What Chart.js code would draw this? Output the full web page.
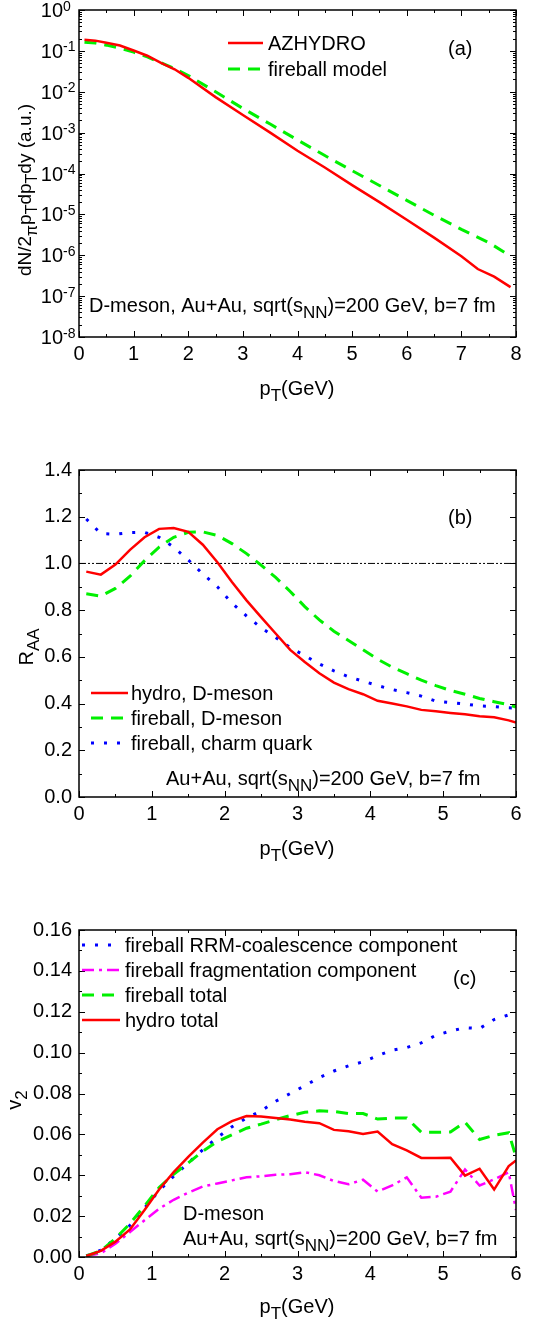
<!DOCTYPE html>
<html>
<head>
<meta charset="utf-8">
<script src="https://cdn.jsdelivr.net/npm/chart.js@4.4.1/dist/chart.umd.min.js"></script>
<style>
body { margin: 0; background: #fff; }
canvas { position: absolute; left: 0; }
</style>
</head>
<body>
<canvas id="spectra-chart" width="533" height="420" style="top:0"></canvas>
<canvas id="raa-chart" width="533" height="450" style="top:420px"></canvas>
<canvas id="v2-chart" width="533" height="455" style="top:870px"></canvas>
<script>
// (a) pT spectra
const ptHydroSpectrum = [0.1, 0.3, 0.5, 0.75, 1, 1.25, 1.5, 1.75, 2, 2.5, 3, 3.5, 4, 4.5, 5, 5.5, 6, 6.5, 7, 7.3, 7.6, 7.9];
const azhydroSpectrum = [0.186, 0.178, 0.158, 0.135, 0.102, 0.076, 0.051, 0.0355, 0.0219, 7.4e-3, 2.7e-3, 1.0e-3, 3.6e-4, 1.4e-4, 5.2e-5, 2.0e-5, 7.4e-6, 2.7e-6, 9.5e-7, 4.6e-7, 3.0e-7, 1.66e-7];
const ptFireballSpectrum = [0.1, 0.3, 0.5, 0.75, 1, 1.25, 1.5, 1.75, 2, 2.5, 3, 3.5, 4, 4.5, 5, 5.5, 6, 6.5, 7, 7.5, 7.9];
const fireballSpectrum = [0.162, 0.155, 0.138, 0.117, 0.093, 0.071, 0.051, 0.037, 0.025, 0.010, 3.9e-3, 1.62e-3, 6.6e-4, 2.75e-4, 1.17e-4, 5.1e-5, 2.2e-5, 9.5e-6, 4.3e-6, 2.05e-6, 9.5e-7];
const logDecades = [0, -1, -2, -3, -4, -5, -6, -7, -8];

// (b) and (c) share the pT grid
const ptGrid = [0.1, 0.3, 0.5, 0.7, 0.9, 1.1, 1.3, 1.5, 1.7, 1.9, 2.1, 2.3, 2.5, 2.7, 2.9, 3.1, 3.3, 3.5, 3.7, 3.9, 4.1, 4.3, 4.5, 4.7, 4.9, 5.1, 5.3, 5.5, 5.7, 5.9, 6.0];

// (b) R_AA
const raaHydroD = [0.965, 0.952, 0.995, 1.058, 1.112, 1.148, 1.152, 1.135, 1.08, 1.005, 0.92, 0.842, 0.77, 0.70, 0.63, 0.578, 0.53, 0.49, 0.462, 0.44, 0.412, 0.40, 0.388, 0.373, 0.367, 0.36, 0.354, 0.346, 0.341, 0.328, 0.319];
const raaFireballD = [0.87, 0.86, 0.893, 0.945, 1.012, 1.07, 1.112, 1.133, 1.135, 1.12, 1.085, 1.042, 0.993, 0.94, 0.88, 0.815, 0.758, 0.71, 0.67, 0.63, 0.59, 0.556, 0.528, 0.50, 0.477, 0.456, 0.44, 0.422, 0.408, 0.395, 0.385];
const raaFireballCharm = [1.19, 1.128, 1.125, 1.132, 1.133, 1.112, 1.07, 1.015, 0.955, 0.9, 0.83, 0.775, 0.725, 0.683, 0.64, 0.605, 0.57, 0.54, 0.515, 0.496, 0.477, 0.46, 0.447, 0.432, 0.41, 0.404, 0.398, 0.39, 0.387, 0.382, 0.38];
const refLineX = [0, 6];
const refLineY = [1, 1];

// (c) v2
const v2Coalescence = [0.0005, 0.0033, 0.009, 0.0155, 0.024, 0.0325, 0.0395, 0.046, 0.0525, 0.0585, 0.0637, 0.068, 0.0715, 0.0762, 0.080, 0.0838, 0.0878, 0.091, 0.0935, 0.0955, 0.0985, 0.1012, 0.1025, 0.1048, 0.1085, 0.1105, 0.1122, 0.1118, 0.1162, 0.1185, 0.1195];
const v2Fragmentation = [0.0004, 0.0018, 0.0065, 0.0122, 0.018, 0.0236, 0.028, 0.0315, 0.0345, 0.036, 0.0375, 0.039, 0.0395, 0.0402, 0.0405, 0.0415, 0.040, 0.0372, 0.0356, 0.0378, 0.032, 0.035, 0.039, 0.029, 0.0295, 0.032, 0.0428, 0.035, 0.038, 0.0415, 0.023];
const v2FireballTotal = [0.0005, 0.003, 0.009, 0.0163, 0.025, 0.034, 0.0405, 0.046, 0.0518, 0.0565, 0.0598, 0.063, 0.065, 0.0672, 0.0692, 0.0708, 0.0715, 0.0712, 0.0702, 0.0702, 0.0675, 0.068, 0.068, 0.061, 0.061, 0.0612, 0.066, 0.0575, 0.0595, 0.0608, 0.049];
const v2HydroTotal = [0.0005, 0.003, 0.0075, 0.0135, 0.023, 0.033, 0.0415, 0.049, 0.056, 0.0625, 0.0665, 0.069, 0.0688, 0.068, 0.0673, 0.0662, 0.0655, 0.0622, 0.0615, 0.0602, 0.0614, 0.0552, 0.0522, 0.0485, 0.0485, 0.0486, 0.0398, 0.0432, 0.033, 0.0445, 0.0472];

const FONT = '"Liberation Sans", Arial, sans-serif';
const SIZE = 20;
const SUB = 0.85;

const pts = (xs, ys) => xs.map((x, i) => ({ x: x, y: ys[i] }));

const solidRed = { borderColor: '#ff0000', borderWidth: 2.5 };
const dashGreen = { borderColor: '#00f000', borderWidth: 3, borderDash: [12, 8] };
const dotBlue = { borderColor: '#0000ff', borderWidth: 3, borderDash: [3, 10] };
const dashDotMagenta = { borderColor: '#ff00ff', borderWidth: 2.5, borderDash: [12, 5, 3, 5] };

// draws text made of normal / sub / sup pieces, y is the baseline
function richWidth(ctx, parts, size) {
    let w = 0;
    parts.forEach(p => {
        ctx.font = (p[1] ? Math.round(size * SUB) : size) + 'px ' + FONT;
        w += ctx.measureText(p[0]).width;
    });
    return w;
}

function drawRich(ctx, parts, x, y, size, align) {
    let cx = x;
    if (align === 'center') cx -= richWidth(ctx, parts, size) / 2;
    if (align === 'right') cx -= richWidth(ctx, parts, size);
    ctx.textAlign = 'left';
    ctx.textBaseline = 'alphabetic';
    parts.forEach(p => {
        const s = p[1] ? Math.round(size * SUB) : size;
        ctx.font = s + 'px ' + FONT;
        let dy = 0;
        if (p[1] === 'sub') dy = size * 0.3;
        if (p[1] === 'sup') dy = -size * 0.4;
        ctx.fillText(p[0], cx, y + dy);
        cx += ctx.measureText(p[0]).width;
    });
}

const onGrid = (v, step) => Math.abs(v / step - Math.round(v / step)) < 1e-6;

const frame = {
    id: 'frame',
    afterDraw(chart, args, o) {
        const { ctx, chartArea: a, scales: { x, y } } = chart;
        ctx.save();
        ctx.strokeStyle = '#000';
        ctx.fillStyle = '#000';
        ctx.lineWidth = 1;
        ctx.setLineDash([]);

        // inward ticks on all four sides
        ctx.beginPath();
        for (let v = x.min; v <= x.max + 1e-9; v += o.xMinor) {
            const px = Math.round(x.getPixelForValue(v)) + 0.5;
            const len = onGrid(v, o.xMajor) ? 6 : 3;
            ctx.moveTo(px, a.bottom); ctx.lineTo(px, a.bottom - len);
            ctx.moveTo(px, a.top); ctx.lineTo(px, a.top + len);
        }
        const yTicks = [];
        if (o.logY) {
            logDecades.forEach(d => {
                for (let m = 1; m <= 9; m++) {
                    const v = m * Math.pow(10, d);
                    if (v >= y.min * 0.999 && v <= y.max * 1.001) yTicks.push([v, m === 1]);
                }
            });
        } else {
            for (let v = y.min; v <= y.max + 1e-9; v += o.yMinor) yTicks.push([v, onGrid(v, o.yMajor)]);
        }
        yTicks.forEach(t => {
            const py = Math.round(y.getPixelForValue(t[0])) + 0.5;
            const len = t[1] ? 6 : 3;
            ctx.moveTo(a.left, py); ctx.lineTo(a.left + len, py);
            ctx.moveTo(a.right, py); ctx.lineTo(a.right - len, py);
        });
        ctx.stroke();

        ctx.lineWidth = 1.5;
        ctx.strokeRect(a.left, a.top, a.width, a.height);

        // log axis labels 10^n
        if (o.logY) {
            logDecades.forEach(d => {
                const py = y.getPixelForValue(Math.pow(10, d));
                drawRich(ctx, [['10']], a.left - 16, py + 7, SIZE, 'right');
                drawRich(ctx, [[String(d), 'sup']], a.left - 16, py + 7, SIZE * 0.8, 'left');
            });
        }

        // legend with the datasets' own line styles
        o.legend.rows.forEach(r => {
            const ds = chart.data.datasets[r.ds];
            ctx.strokeStyle = ds.borderColor;
            ctx.lineWidth = ds.borderWidth;
            ctx.setLineDash(ds.borderDash || []);
            ctx.beginPath();
            ctx.moveTo(o.legend.x0, r.y);
            ctx.lineTo(o.legend.x1, r.y);
            ctx.stroke();
            ctx.setLineDash([]);
            drawRich(ctx, [[r.label]], o.legend.tx, r.y + 7, SIZE, 'left');
        });

        o.texts.forEach(t => {
            ctx.save();
            ctx.translate(t.x, t.y);
            if (t.rotate) ctx.rotate(-Math.PI / 2);
            drawRich(ctx, t.parts, 0, 0, t.size || SIZE, t.align || 'left');
            ctx.restore();
        });
        ctx.restore();
    }
};

const xTitle = [['p'], ['T', 'sub'], ['(GeV)']];
const collision = [['Au+Au, sqrt(s'], ['NN', 'sub'], [')=200 GeV, b=7 fm']];

function makeOptions(cfg) {
    return {
        responsive: false,
        animation: false,
        layout: { padding: { top: cfg.top, right: 17, left: 0, bottom: 0 } },
        elements: { point: { radius: 0 }, line: { tension: 0, fill: false } },
        scales: {
            x: {
                type: 'linear', min: 0, max: cfg.xMax,
                grid: { display: false, drawTicks: false },
                border: { display: false },
                ticks: { stepSize: 1, padding: 5, color: '#000', font: { family: FONT, size: SIZE } },
                afterFit: s => { s.height = cfg.xHeight; }
            },
            y: Object.assign({
                grid: { display: false, drawTicks: false },
                border: { display: false },
                afterFit: s => { s.width = 79; }
            }, cfg.y)
        },
        plugins: {
            legend: { display: false },
            tooltip: { enabled: false },
            frame: cfg.frame
        }
    };
}

new Chart(document.getElementById('spectra-chart'), {
    type: 'line',
    data: {
        datasets: [
            Object.assign({ data: pts(ptHydroSpectrum, azhydroSpectrum) }, solidRed),
            Object.assign({ data: pts(ptFireballSpectrum, fireballSpectrum) }, dashGreen)
        ]
    },
    options: makeOptions({
        top: 10, xMax: 8, xHeight: 83,
        y: { type: 'logarithmic', min: 1e-8, max: 1, ticks: { display: false } },
        frame: {
            xMinor: 0.5, xMajor: 1, logY: true,
            legend: { x0: 228, x1: 263, tx: 268, rows: [
                { ds: 0, label: 'AZHYDRO', y: 43 },
                { ds: 1, label: 'fireball model', y: 69 }
            ] },
            texts: [
                { parts: [['(a)']], x: 448, y: 55 },
                { parts: [['D-meson, ']].concat(collision), x: 89, y: 312 },
                { parts: xTitle, x: 297, y: 395, align: 'center' },
                { parts: [['dN/2'], ['\u03c0', 'sub'], ['p'], ['T', 'sub'], ['dp'], ['T', 'sub'], ['dy (a.u.)']], x: 31, y: 190, align: 'center', rotate: true, size: 19 }
            ]
        }
    }),
    plugins: [frame]
});

new Chart(document.getElementById('raa-chart'), {
    type: 'line',
    data: {
        datasets: [
            Object.assign({ data: pts(ptGrid, raaHydroD) }, solidRed),
            Object.assign({ data: pts(ptGrid, raaFireballD) }, dashGreen),
            Object.assign({ data: pts(ptGrid, raaFireballCharm) }, dotBlue),
            { data: pts(refLineX, refLineY), borderColor: '#000', borderWidth: 1, borderDash: [7, 2, 2, 2, 2, 2] }
        ]
    },
    options: makeOptions({
        top: 50, xMax: 6, xHeight: 73,
        y: {
            type: 'linear', min: 0, max: 1.4,
            ticks: { stepSize: 0.2, padding: 7, color: '#000', font: { family: FONT, size: SIZE }, callback: v => v.toFixed(1) }
        },
        frame: {
            xMinor: 0.5, xMajor: 1, yMinor: 0.1, yMajor: 0.2,
            legend: { x0: 91, x1: 128, tx: 131, rows: [
                { ds: 0, label: 'hydro, D-meson', y: 273 },
                { ds: 1, label: 'fireball, D-meson', y: 298 },
                { ds: 2, label: 'fireball, charm quark', y: 323 }
            ] },
            texts: [
                { parts: [['(b)']], x: 448, y: 104 },
                { parts: collision, x: 166, y: 365 },
                { parts: xTitle, x: 297, y: 435, align: 'center' },
                { parts: [['R'], ['AA', 'sub']], x: 33, y: 227, align: 'center', rotate: true }
            ]
        }
    }),
    plugins: [frame]
});

new Chart(document.getElementById('v2-chart'), {
    type: 'line',
    data: {
        datasets: [
            Object.assign({ data: pts(ptGrid, v2HydroTotal) }, solidRed),
            Object.assign({ data: pts(ptGrid, v2FireballTotal) }, dashGreen),
            Object.assign({ data: pts(ptGrid, v2Coalescence) }, dotBlue),
            Object.assign({ data: pts(ptGrid, v2Fragmentation) }, dashDotMagenta)
        ]
    },
    options: makeOptions({
        top: 60, xMax: 6, xHeight: 68,
        y: {
            type: 'linear', min: 0, max: 0.16,
            ticks: { stepSize: 0.02, padding: 7, color: '#000', font: { family: FONT, size: SIZE }, callback: v => v.toFixed(2) }
        },
        frame: {
            xMinor: 0.5, xMajor: 1, yMinor: 0.01, yMajor: 0.02,
            legend: { x0: 82, x1: 120, tx: 125, rows: [
                { ds: 2, label: 'fireball RRM-coalescence component', y: 75 },
                { ds: 3, label: 'fireball fragmentation component', y: 100 },
                { ds: 1, label: 'fireball total', y: 125 },
                { ds: 0, label: 'hydro total', y: 150 }
            ] },
            texts: [
                { parts: [['(c)']], x: 453, y: 115 },
                { parts: [['D-meson']], x: 183, y: 350 },
                { parts: collision, x: 183, y: 375 },
                { parts: xTitle, x: 297, y: 443, align: 'center' },
                { parts: [['v'], ['2', 'sub']], x: 21, y: 230, align: 'center', rotate: true }
            ]
        }
    }),
    plugins: [frame]
});
</script>
</body>
</html>
